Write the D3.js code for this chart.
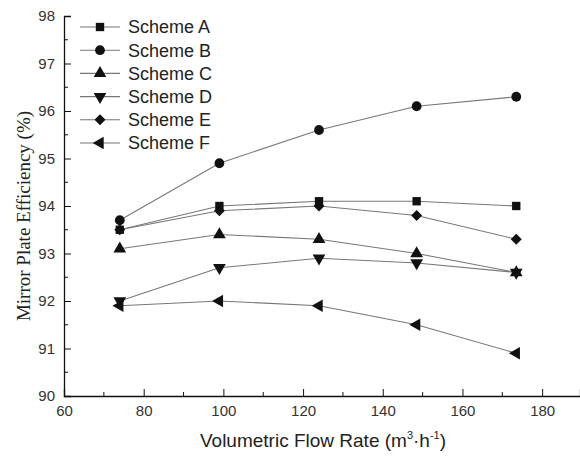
<!DOCTYPE html>
<html>
<head>
<meta charset="utf-8">
<script src="https://cdn.jsdelivr.net/npm/d3@7"></script>
<style>
  body { margin: 0; background: #fff; }
  svg { display: block; }
  .tick text { font-family: Arial, "Liberation Sans", sans-serif; font-size: 15px; fill: #333; }
</style>
</head>
<body>
<svg id="chart" width="580" height="461"></svg>
<script>
// data
const flowRates = [74, 99, 124, 148.5, 173.5];
const schemeNames = ['Scheme A', 'Scheme B', 'Scheme C', 'Scheme D', 'Scheme E', 'Scheme F'];
const schemeA = [93.5, 94.0, 94.1, 94.1, 94.0];
const schemeB = [93.7, 94.9, 95.6, 96.1, 96.3];
const schemeC = [93.1, 93.4, 93.3, 93.0, 92.6];
const schemeD = [92.0, 92.7, 92.9, 92.8, 92.6];
const schemeE = [93.5, 93.9, 94.0, 93.8, 93.3];
const schemeF = [91.9, 92.0, 91.9, 91.5, 90.9];
const xTicks = [60, 80, 100, 120, 140, 160, 180];
const yTicks = [90, 91, 92, 93, 94, 95, 96, 97, 98];

const allSeries = [schemeA, schemeB, schemeC, schemeD, schemeE, schemeF];

const svg = d3.select('#chart');
const margin = { left: 64, top: 16, right: 0, bottom: 65 };
const width = 580, height = 461;

const x = d3.scaleLinear().domain([60, 189.5]).range([margin.left, width]);
const y = d3.scaleLinear().domain([90, 98]).range([height - margin.bottom, margin.top]);

// marker shapes: square, circle, up, down, diamond, left
const markers = [
  { type: d3.symbolSquare, size: 70, rot: 0 },
  { type: d3.symbolCircle, size: 75, rot: 0 },
  { type: d3.symbolTriangle, size: 70, rot: 0 },
  { type: d3.symbolTriangle, size: 70, rot: 180 },
  { type: d3.symbolSquare, size: 60, rot: 45 },
  { type: d3.symbolTriangle, size: 70, rot: -90 }
];

function drawMarker(g, m, px, py) {
  g.append('path')
    .attr('d', d3.symbol().type(m.type).size(m.size)())
    .attr('transform', `translate(${px},${py}) rotate(${m.rot})`)
    .attr('fill', '#111');
}

// axes
const xAxis = svg.append('g')
  .attr('transform', `translate(0,${y(90)})`)
  .call(d3.axisBottom(x).tickValues(xTicks).tickSize(-7).tickPadding(9).tickFormat(d3.format('d')));
xAxis.append('g').selectAll('line')
  .data(d3.range(70, 190, 20))
  .enter().append('line')
  .attr('x1', d => x(d)).attr('x2', d => x(d))
  .attr('y1', 0).attr('y2', -4)
  .attr('stroke', '#111');

const yAxis = svg.append('g')
  .attr('transform', `translate(${x(60)},0)`)
  .call(d3.axisLeft(y).tickValues(yTicks).tickSize(-7).tickPadding(9).tickFormat(d3.format('d')));
yAxis.append('g').selectAll('line')
  .data(d3.range(90.5, 98, 1))
  .enter().append('line')
  .attr('y1', d => y(d)).attr('y2', d => y(d))
  .attr('x1', 0).attr('x2', 4)
  .attr('stroke', '#111');

svg.selectAll('.domain').attr('stroke', '#111').attr('stroke-width', 1.3);
svg.selectAll('.tick line').attr('stroke', '#111');

// series
const line = d3.line().x((d, i) => x(flowRates[i])).y(d => y(d));
const plot = svg.append('g');
allSeries.forEach((s, k) => {
  plot.append('path')
    .datum(s)
    .attr('d', line)
    .attr('fill', 'none')
    .attr('stroke', '#777')
    .attr('stroke-width', 1.1);
});
allSeries.forEach((s, k) => {
  s.forEach((v, i) => drawMarker(plot, markers[k], x(flowRates[i]), y(v)));
});

// legend
const legend = svg.append('g');
schemeNames.forEach((name, k) => {
  const ly = 27 + k * 23.2;
  legend.append('line')
    .attr('x1', 80).attr('x2', 120).attr('y1', ly).attr('y2', ly)
    .attr('stroke', '#777').attr('stroke-width', 1.1);
  drawMarker(legend, markers[k], 100, ly);
  legend.append('text')
    .attr('x', 128).attr('y', ly)
    .attr('dy', '0.36em')
    .attr('font-family', 'Arial, "Liberation Sans", sans-serif')
    .attr('font-size', 18)
    .attr('fill', '#222')
    .text(name);
});

// axis titles
svg.append('text')
  .attr('transform', 'translate(30,216) rotate(-90)')
  .attr('text-anchor', 'middle')
  .attr('font-family', '"Times New Roman", "Liberation Serif", serif')
  .attr('font-size', 19)
  .attr('fill', '#222')
  .text('Mirror Plate Efficiency (%)');

const xt = svg.append('text')
  .attr('x', 323).attr('y', 447)
  .attr('text-anchor', 'middle')
  .attr('font-family', 'Arial, "Liberation Sans", sans-serif')
  .attr('font-size', 19)
  .attr('fill', '#222');
xt.append('tspan').text('Volumetric Flow Rate (m');
xt.append('tspan').attr('font-size', 11).attr('dy', -8).text('3');
xt.append('tspan').attr('dy', 8).text('·h');
xt.append('tspan').attr('font-size', 11).attr('dy', -8).text('-1');
xt.append('tspan').attr('dy', 8).text(')');
</script>
</body>
</html>
